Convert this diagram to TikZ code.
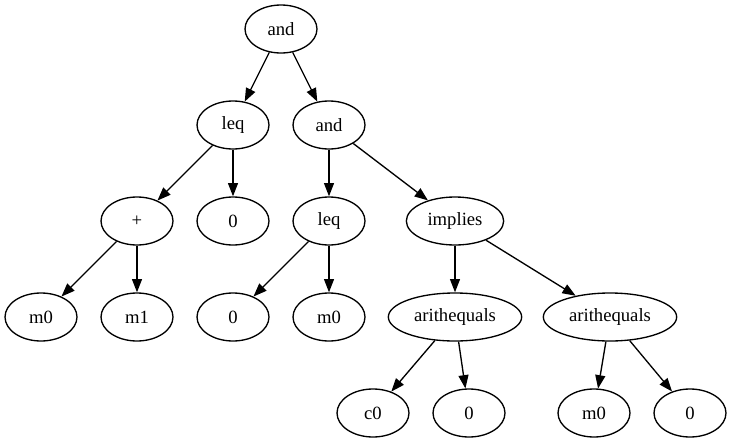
\documentclass[tikz,border=0pt]{standalone}
\usepackage{fontspec}
\setmainfont{Liberation Serif}
\usetikzlibrary{shapes.geometric,arrows.meta}
\begin{document}
\begin{tikzpicture}[x=0.75pt,y=-0.75pt,
  tn/.style={ellipse,draw,line width=1pt,minimum width=54pt,minimum height=36pt,
    inner sep=0pt,font=\fontsize{14}{16}\selectfont},
  edge/.style={-{Triangle[length=10pt,width=7.5pt]},line width=1pt}]
\useasboundingbox (0,0) rectangle (732,443);

% level 1
\node[tn] (and1) at (281,29) {and};
% level 2
\node[tn] (leq1) at (233,125) {leq};
\node[tn] (and2) at (329,125) {and};
% level 3
\node[tn] (plus) at (137,221) {+};
\node[tn] (zeroA) at (233,221) {0};
\node[tn] (leq2) at (329,221) {leq};
\node[tn, minimum width=73pt] (impl) at (455,221) {implies};
% level 4
\node[tn] (m0a) at (41,317) {m0};
\node[tn] (m1) at (137,317) {m1};
\node[tn] (zeroB) at (233,317) {0};
\node[tn] (m0b) at (329,317) {m0};
\node[tn, minimum width=100pt] (aeq1) at (455,317) {arithequals};
\node[tn, minimum width=100pt] (aeq2) at (610,317) {arithequals};
% level 5
\node[tn] (c0) at (373,413) {c0};
\node[tn] (zeroC) at (469,413) {0};
\node[tn] (m0c) at (594,413) {m0};
\node[tn] (zeroD) at (690,413) {0};

\draw[edge] (and1) -- (leq1);
\draw[edge] (and1) -- (and2);
\draw[edge] (leq1) -- (plus);
\draw[edge] (leq1) -- (zeroA);
\draw[edge] (and2) -- (leq2);
\draw[edge] (and2) -- (impl);
\draw[edge] (plus) -- (m0a);
\draw[edge] (plus) -- (m1);
\draw[edge] (leq2) -- (zeroB);
\draw[edge] (leq2) -- (m0b);
\draw[edge] (impl) -- (aeq1);
\draw[edge] (impl) -- (aeq2);
\draw[edge] (aeq1) -- (c0);
\draw[edge] (aeq1) -- (zeroC);
\draw[edge] (aeq2) -- (m0c);
\draw[edge] (aeq2) -- (zeroD);
\end{tikzpicture}
\end{document}
